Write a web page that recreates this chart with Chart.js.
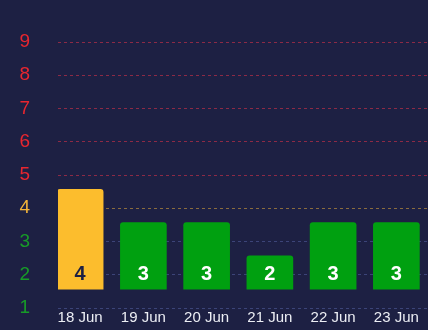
<!DOCTYPE html>
<html>
<head>
<meta charset="utf-8">
<script src="https://cdn.jsdelivr.net/npm/chart.js@4.4.0/dist/chart.umd.min.js"></script>
<style>
  html, body { margin: 0; padding: 0; background: #1d2043; }
  #wrap { width: 428px; height: 330px; }
</style>
</head>
<body>
<div id="wrap"><canvas id="streakChart"></canvas></div>
<script>
const days = ["18 Jun", "19 Jun", "20 Jun", "21 Jun", "22 Jun", "23 Jun"];
const counts = [4, 3, 3, 2, 3, 3];
const yTicks = [1, 2, 3, 4, 5, 6, 7, 8, 9];

const RED = "#e8262f";
const ORANGE = "#f2b43a";
const GREEN = "#179b28";
const BAR_YELLOW = "#fcbd2d";
const BAR_GREEN = "#00a010";

function tickColor(v) {
  if (v >= 5) return RED;
  if (v === 4) return ORANGE;
  return GREEN;
}

function gridColor(v) {
  if (v >= 5) return "#8c2a46";
  if (v === 4) return "#8a6c3e";
  return "#3c4478";
}

// draws the count near the bottom of every bar
const countLabels = {
  id: "countLabels",
  afterDatasetsDraw(chart) {
    const ctx = chart.ctx;
    const meta = chart.getDatasetMeta(0);
    ctx.save();
    ctx.font = "bold 20px 'Liberation Sans', Arial, sans-serif";
    ctx.textAlign = "center";
    ctx.textBaseline = "middle";
    meta.data.forEach((bar, i) => {
      ctx.fillStyle = counts[i] >= 4 ? "#1d2043" : "#ffffff";
      ctx.fillText(String(counts[i]), bar.x, bar.base - 15);
    });
    ctx.restore();
  }
};

const ctx = document.getElementById("streakChart").getContext("2d");

new Chart(ctx, {
  type: "bar",
  data: {
    datasets: [{
      data: days.map((d, i) => ({ x: i, y: counts[i] })),
      yAxisID: "yb",
      base: 1,
      barThickness: 46,
      borderRadius: 3,
      backgroundColor: c => counts[c.dataIndex] >= 4 ? BAR_YELLOW : BAR_GREEN
    }]
  },
  options: {
    responsive: true,
    maintainAspectRatio: false,
    animation: false,
    layout: { padding: { top: 42, right: 0, left: 0, bottom: 0 } },
    plugins: {
      legend: { display: false },
      tooltip: { enabled: false }
    },
    scales: {
      x: {
        type: "linear",
        offset: false,
        min: -0.35,
        max: 5.5,
        afterFit: scale => { scale.height = 22; },
        grid: { display: false, drawTicks: false },
        border: { display: false },
        afterBuildTicks: scale => {
          scale.ticks = days.map((d, i) => ({ value: i }));
        },
        ticks: {
          padding: 1,
          maxRotation: 0,
          color: "#eceef4",
          font: { family: "'Liberation Sans', Arial, sans-serif", size: 15 },
          callback: v => days[v]
        }
      },
      y: {
        min: 1,
        max: 9,
        afterFit: scale => {
          scale.width = 58;
          scale.paddingTop = 0;
          scale.paddingBottom = 0;
        },
        afterBuildTicks: scale => {
          scale.ticks = yTicks.map(v => ({ value: v }));
        },
        grid: {
          drawTicks: false,
          color: c => gridColor(c.tick.value)
        },
        border: { display: false, dash: [3, 3] },
        ticks: {
          padding: 28,
          color: c => tickColor(c.tick.value),
          font: { family: "'Liberation Sans', Arial, sans-serif", size: 19 }
        }
      },
      yb: {
        display: false,
        min: 0.43,
        max: 8.43
      }
    }
  },
  plugins: [countLabels]
});
</script>
</body>
</html>
